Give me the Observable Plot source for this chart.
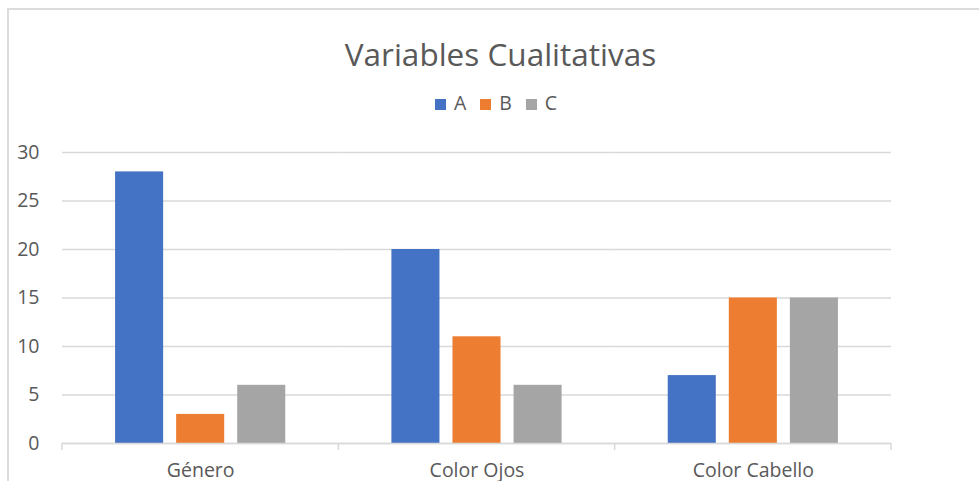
<!DOCTYPE html>
<html>
<head>
<meta charset="utf-8">
<script src="https://cdn.jsdelivr.net/npm/d3@7"></script>
<script src="https://cdn.jsdelivr.net/npm/@observablehq/plot@0.6"></script>
<style>
  html, body { margin: 0; padding: 0; background: #fff; }
  body { width: 979px; height: 481px; overflow: hidden; position: relative; font-family: "Open Sans", sans-serif; }
  #border { position: absolute; left: 7px; top: 8px; width: 1000px; height: 500px; border-left: 2px solid #dcdcdc; border-top: 2px solid #dcdcdc; }
  #title { position: absolute; left: 0; top: 32px; width: 1001px; text-align: center; font-size: 31.5px; color: #595959; line-height: 44px; }
  #legend { position: absolute; left: 0; top: 90px; width: 992px; text-align: center; font-size: 19.5px; color: #595959; line-height: 26px; }
  .item { display: inline-block; margin: 0 7px; }
  .sw { display: inline-block; width: 11px; height: 11px; margin-right: 8px; vertical-align: 0px; }
  #chart { position: absolute; left: 0; top: 130px; }
</style>
</head>
<body>
<div id="border"></div>
<div id="title">Variables Cualitativas</div>
<div id="legend"></div>
<div id="chart"></div>
<script>
const categories = ["Género", "Color Ojos", "Color Cabello"];
const series = ["A", "B", "C"];
const valuesA = [28, 20, 7];
const valuesB = [3, 11, 15];
const valuesC = [6, 6, 15];
const colors = ["#4472C4", "#ED7D31", "#A5A5A5"];
const yTicks = [0, 5, 10, 15, 20, 25, 30];

const seriesValues = [valuesA, valuesB, valuesC];
const data = [];
categories.forEach((c, i) => {
  series.forEach((s, j) => data.push({category: c, series: s, value: seriesValues[j][i]}));
});

// legend
const legend = document.getElementById("legend");
series.forEach((s, j) => {
  const it = document.createElement("span");
  it.className = "item";
  const sw = document.createElement("span");
  sw.className = "sw";
  sw.style.background = colors[j];
  it.appendChild(sw);
  it.appendChild(document.createTextNode(s));
  legend.appendChild(it);
});

const W = 979, H = 351;
const chart = Plot.plot({
  width: W,
  height: H,
  marginLeft: 62,
  marginRight: 88,
  marginTop: 22,
  marginBottom: 38,
  style: {fontFamily: "Open Sans, sans-serif", fontSize: "19px", color: "#595959", background: "transparent", overflow: "visible"},
  fx: {domain: categories, padding: 0, label: null, round: false},
  x: {domain: series, paddingInner: 13 / 61, paddingOuter: 0.869, round: false, axis: null},
  y: {domain: [0, 30], ticks: yTicks, label: null},
  color: {domain: series, range: colors},
  marks: [
    Plot.gridY(yTicks, {stroke: "#d9d9d9", strokeOpacity: 1, strokeWidth: 1.3}),
    Plot.axisY(yTicks, {tickSize: 0, tickPadding: 23, fill: "#595959", fontSize: 19.5, label: null}),
    Plot.axisFx({anchor: "bottom", tickSize: 0, tickPadding: 20, fill: "#595959", fontSize: 19.5, label: null}),
    Plot.barY(data, {fx: "category", x: "series", y: "value", fill: "series"}),
    Plot.ruleY([0], {stroke: "#d9d9d9", strokeWidth: 1.5})
  ]
});
document.getElementById("chart").appendChild(chart);

// category boundary tick marks on the x axis, from the library's fx scale
const fx = chart.scale("fx");
const y = chart.scale("y");
const y0 = y.apply(0);
const bounds = categories.map(c => fx.apply(c));
bounds.push(fx.apply(categories[categories.length - 1]) + fx.bandwidth);
d3.select(chart).append("g")
  .attr("stroke", "#d9d9d9").attr("stroke-width", 1.5)
  .selectAll("line").data(bounds).join("line")
  .attr("x1", d => d).attr("x2", d => d)
  .attr("y1", y0).attr("y2", y0 + 7);
</script>
</body>
</html>
